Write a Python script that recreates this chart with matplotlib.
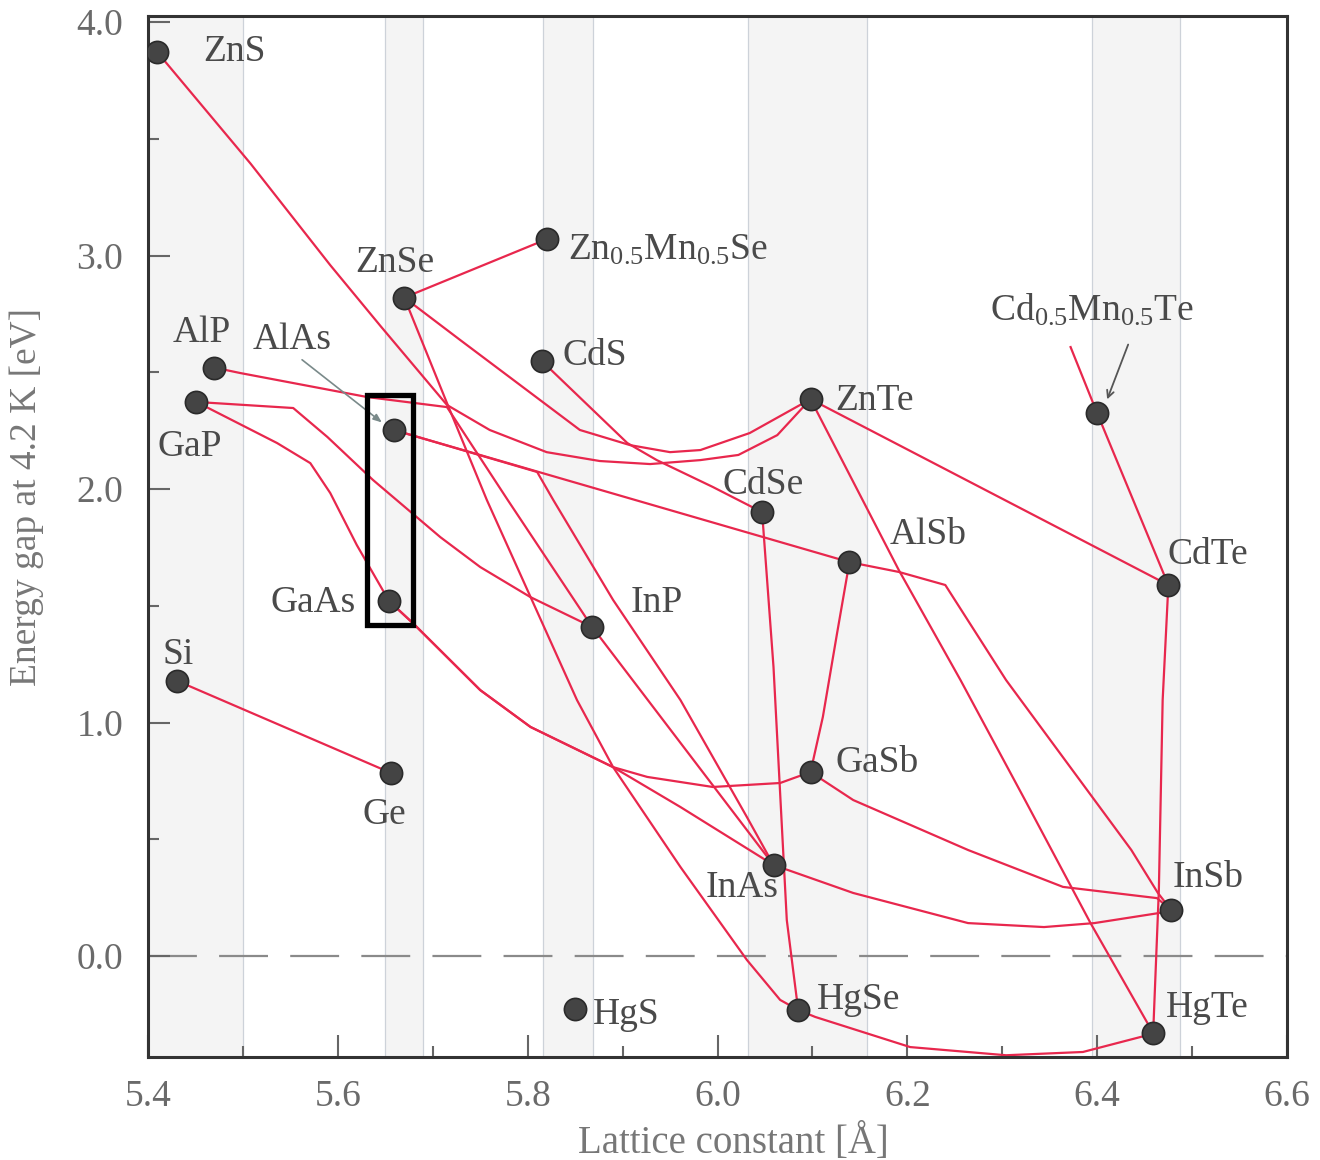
import matplotlib
matplotlib.use('Agg')
import matplotlib.pyplot as plt
from matplotlib.patches import Rectangle
from matplotlib.ticker import MultipleLocator

plt.rcParams['font.family'] = ['Liberation Serif', 'DejaVu Serif']
plt.rcParams['mathtext.fontset'] = 'custom'
plt.rcParams['mathtext.rm'] = 'Liberation Serif'
plt.rcParams['mathtext.it'] = 'Liberation Serif:italic'

# compounds: lattice constant [A], gap at 4.2 K [eV]
names = ['ZnS', 'ZnSe', 'Zn0.5Mn0.5Se', 'AlP', 'AlAs', 'GaP', 'CdS', 'ZnTe',
         'Cd0.5Mn0.5Te', 'CdSe', 'AlSb', 'CdTe', 'GaAs', 'InP', 'Si', 'Ge',
         'GaSb', 'InAs', 'InSb', 'HgS', 'HgSe', 'HgTe']
lattice = [5.41, 5.67, 5.82, 5.47, 5.659, 5.451, 5.815, 6.098,
           6.40, 6.047, 6.139, 6.475, 5.654, 5.868, 5.431, 5.656,
           6.098, 6.059, 6.478, 5.85, 6.085, 6.459]
gap = [3.87, 2.82, 3.07, 2.52, 2.253, 2.373, 2.548, 2.385,
       2.325, 1.901, 1.687, 1.589, 1.52, 1.409, 1.178, 0.784,
       0.788, 0.39, 0.197, -0.227, -0.231, -0.33]

labels = {
    'ZnS': ('ZnS', 5.458, 3.872),
    'ZnSe': ('ZnSe', 5.618, 2.968),
    'Zn0.5Mn0.5Se': (r'Zn$_{0.5}$Mn$_{0.5}$Se', 5.843, 3.024),
    'AlP': ('AlP', 5.426, 2.668),
    'AlAs': ('AlAs', 5.51, 2.638),
    'GaP': ('GaP', 5.41, 2.18),
    'CdS': ('CdS', 5.837, 2.57),
    'ZnTe': ('ZnTe', 6.124, 2.377),
    'Cd0.5Mn0.5Te': (r'Cd$_{0.5}$Mn$_{0.5}$Te', 6.287, 2.767),
    'CdSe': ('CdSe', 6.005, 2.017),
    'AlSb': ('AlSb', 6.181, 1.803),
    'CdTe': ('CdTe', 6.474, 1.717),
    'GaAs': ('GaAs', 5.529, 1.512),
    'InP': ('InP', 5.908, 1.512),
    'Si': ('Si', 5.415, 1.289),
    'Ge': ('Ge', 5.626, 0.604),
    'GaSb': ('GaSb', 6.124, 0.827),
    'InAs': ('InAs', 5.987, 0.291),
    'InSb': ('InSb', 6.48, 0.334),
    'HgS': ('HgS', 5.869, -0.253),
    'HgSe': ('HgSe', 6.105, -0.188),
    'HgTe': ('HgTe', 6.472, -0.223),
}

# alloy curves between the binaries (lattice, gap)
ZnS_ZnTe = ([5.41, 5.508, 5.592, 5.645, 5.715, 5.760, 5.820, 5.876, 5.929, 5.982, 6.022, 6.063, 6.098],
            [3.87, 3.394, 2.959, 2.698, 2.36, 2.253, 2.158, 2.12, 2.107, 2.124, 2.146, 2.231, 2.385])
ZnSe_ZnTe = ([5.67, 5.729, 5.785, 5.855, 5.908, 5.95, 5.982, 6.034, 6.098],
             [2.82, 2.638, 2.467, 2.253, 2.188, 2.158, 2.167, 2.24, 2.385])
ZnSe_ZnMnSe = ([5.67, 5.82], [2.82, 3.07])
CdS_CdSe = ([5.815, 5.905, 5.936, 5.995, 6.047], [2.548, 2.197, 2.124, 2.009, 1.901])
ZnSe_HgSe = ([5.67, 5.715, 5.757, 5.852, 5.89, 5.961, 6.031, 6.066, 6.085],
             [2.82, 2.368, 1.953, 1.096, 0.809, 0.381, -0.017, -0.188, -0.231])
AlP_InP = ([5.47, 5.497, 5.631, 5.715, 5.779, 5.868], [2.52, 2.497, 2.394, 2.351, 1.953, 1.409])
GaP_GaAs = ([5.451, 5.536, 5.571, 5.592, 5.62, 5.654], [2.373, 2.197, 2.111, 1.983, 1.76, 1.52])
GaP_InP = ([5.451, 5.553, 5.589, 5.637, 5.708, 5.75, 5.803, 5.868],
           [2.373, 2.347, 2.223, 2.039, 1.794, 1.666, 1.537, 1.409])
AlAs_AlSb = ([5.659, 6.139], [2.253, 1.687])
AlAs_InAs = ([5.659, 5.81, 5.827, 5.89, 5.961, 6.031, 6.059], [2.253, 2.073, 1.953, 1.525, 1.096, 0.595, 0.39])
GaAs_GaSb = ([5.654, 5.679, 5.75, 5.803, 5.89, 5.926, 5.995, 6.066, 6.098],
             [1.52, 1.426, 1.139, 0.981, 0.809, 0.767, 0.724, 0.741, 0.788])
GaAs_InAs = ([5.654, 5.679, 5.75, 5.803, 5.89, 5.961, 6.059], [1.52, 1.426, 1.139, 0.981, 0.809, 0.638, 0.39])
InP_InAs = ([5.868, 6.059], [1.409, 0.39])
AlSb_GaSb = ([6.139, 6.126, 6.111, 6.098], [1.687, 1.383, 1.024, 0.788])
AlSb_InSb = ([6.139, 6.191, 6.24, 6.304, 6.436, 6.464, 6.478], [1.687, 1.645, 1.589, 1.182, 0.454, 0.27, 0.197])
GaSb_InSb = ([6.098, 6.143, 6.264, 6.364, 6.463, 6.478], [0.788, 0.668, 0.454, 0.296, 0.248, 0.197])
InAs_InSb = ([6.059, 6.143, 6.264, 6.344, 6.397, 6.465, 6.478], [0.39, 0.27, 0.141, 0.124, 0.141, 0.184, 0.197])
CdSe_HgSe = ([6.047, 6.059, 6.073, 6.085], [1.901, 1.238, 0.154, -0.231])
HgSe_HgTe = ([6.085, 6.103, 6.203, 6.304, 6.385, 6.454, 6.459], [-0.231, -0.261, -0.39, -0.425, -0.411, -0.338, -0.33])
ZnTe_CdTe = ([6.098, 6.475], [2.385, 1.589])
ZnTe_HgTe = ([6.098, 6.191, 6.256, 6.324, 6.393, 6.459], [2.385, 1.653, 1.182, 0.668, 0.141, -0.33])
CdTe_HgTe = ([6.475, 6.469, 6.465, 6.459], [1.589, 1.096, 0.283, -0.33])
CdTe_MnTe = ([6.475, 6.40, 6.372], [1.589, 2.325, 2.608])
Si_Ge = ([5.431, 5.656], [1.178, 0.784])

curves = [ZnS_ZnTe, ZnSe_ZnTe, ZnSe_ZnMnSe, CdS_CdSe, ZnSe_HgSe, AlP_InP, GaP_GaAs,
          GaP_InP, AlAs_AlSb, AlAs_InAs, GaAs_GaSb, GaAs_InAs, InP_InAs, AlSb_GaSb,
          AlSb_InSb, GaSb_InSb, InAs_InSb, CdSe_HgSe, HgSe_HgTe, ZnTe_CdTe, ZnTe_HgTe,
          CdTe_HgTe, CdTe_MnTe, Si_Ge]

# shaded lattice-matching bands
bands = [(5.4, 5.5), (5.650, 5.690), (5.816, 5.869), (6.032, 6.157), (6.395, 6.487)]

fig = plt.figure(figsize=(13.2, 11.6), dpi=100)
ax = fig.add_axes([148 / 1320, 1 - 1057 / 1160, 1139 / 1320, 1041 / 1160])

for lo, hi in bands:
    ax.axvspan(lo, hi, color='#f4f4f4', lw=0, zorder=0)
    ax.axvline(lo, color='#cdd2d9', lw=0.9, zorder=0.5)
    ax.axvline(hi, color='#cdd2d9', lw=0.9, zorder=0.5)

ax.axhline(0.0, color='#8a8a8a', lw=1.6, dashes=(22, 10), zorder=1)

red = '#e8274d'
for xs, ys in curves:
    ax.plot(xs, ys, color=red, lw=1.6, zorder=2, clip_on=False)

ax.plot(lattice, gap, 'o', ms=16, mfc='#444444', mec='#2a2a2a', mew=1.2, zorder=3, ls='none')

txt = '#4a4a4a'
for n in names:
    s, tx, ty = labels[n]
    ax.text(tx, ty, s, fontsize=27, color=txt, ha='left', va='center', zorder=4)

# pointers to AlAs and Cd0.5Mn0.5Te
ax.annotate('', xy=(5.6487, 2.278), xytext=(5.560, 2.561),
            arrowprops=dict(arrowstyle='-|>,head_length=0.5,head_width=0.2', color='#7a8a8a', lw=1.2),
            zorder=4)
ax.annotate('', xy=(6.4095, 2.373), xytext=(6.4337, 2.630),
            arrowprops=dict(arrowstyle='->,head_length=0.5,head_width=0.25', color='#555555', lw=1.3),
            zorder=4)

ax.add_patch(Rectangle((5.6308, 1.4176), 5.6792 - 5.6308, 2.4026 - 1.4176,
                       fill=False, ec='black', lw=3.8, zorder=5))

ax.set_xlim(5.4, 6.6)
ax.set_ylim(-0.4325, 4.026)
ax.xaxis.set_major_locator(MultipleLocator(0.2))
ax.xaxis.set_minor_locator(MultipleLocator(0.1))
ax.yaxis.set_major_locator(MultipleLocator(1.0))
ax.yaxis.set_minor_locator(MultipleLocator(0.5))
ax.xaxis.set_major_formatter(lambda v, p: f'{v:.1f}')
ax.yaxis.set_major_formatter(lambda v, p: f'{v:.1f}')

ax.tick_params(which='both', direction='in', top=False, right=False, color='#666666', width=1.5,
               labelsize=27, labelcolor='#6a6a6a')
ax.tick_params(which='major', length=16)
ax.tick_params(which='minor', length=8)
ax.tick_params(axis='x', pad=16)
ax.tick_params(axis='y', pad=18)

for sp in ax.spines.values():
    sp.set_color('#333333')
    sp.set_linewidth(2.2)

ax.set_xlabel('Lattice constant [Å]', fontsize=28, color='#777777')
ax.set_ylabel('Energy gap at 4.2 K [eV]', fontsize=27, color='#777777')
ax.xaxis.set_label_coords(0.514, -0.064)
ax.yaxis.set_label_coords(-0.091, 0.538)

fig.savefig('out.png', dpi=100)
